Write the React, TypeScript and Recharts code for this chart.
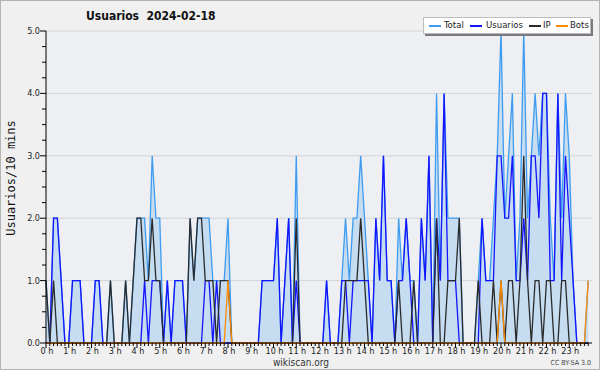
import { ComposedChart, Area, Line, XAxis, YAxis, CartesianGrid } from "recharts";

// 10-minute slots, 6 per hour (one row of each array = one hour)
const TOTAL = [
  1, 0, 2, 2, 1, 0,
  0, 1, 1, 1, 0, 0,
  0, 1, 1, 0, 0, 1,
  0, 0, 0, 1, 0, 1,
  2, 2, 2, 1, 3, 2,
  2, 0, 1, 0, 1, 1,
  1, 0, 2, 1, 2, 2,
  2, 2, 1, 1, 1, 1,
  2, 0, 0, 0, 0, 0,
  0, 0, 0, 1, 1, 1,
  1, 2, 0, 1, 2, 0,
  3, 0, 0, 0, 0, 0,
  0, 0, 1, 0, 0, 0,
  1, 2, 1, 2, 2, 3,
  2, 1, 0, 2, 1, 3,
  1, 1, 0, 2, 1, 2,
  1, 1, 0, 2, 1, 3,
  0, 4, 1, 4, 2, 2,
  2, 2, 0, 0, 0, 0,
  1, 2, 1, 1, 2, 3,
  5, 2, 3, 4, 1, 2,
  5, 2, 3, 4, 3, 4,
  4, 2, 1, 4, 2, 4,
  3, 1, 0, 0, 0, 1,
];

const USUARIOS = [
  0, 0, 2, 2, 1, 0,
  0, 1, 1, 1, 0, 0,
  0, 1, 1, 0, 0, 0,
  0, 0, 0, 0, 0, 0,
  0, 0, 1, 0, 1, 1,
  1, 0, 1, 0, 1, 1,
  1, 0, 0, 0, 0, 0,
  1, 1, 0, 1, 0, 0,
  0, 0, 0, 0, 0, 0,
  0, 0, 0, 1, 1, 1,
  1, 2, 0, 1, 2, 0,
  1, 0, 0, 0, 0, 0,
  0, 0, 1, 0, 0, 0,
  1, 1, 0, 1, 1, 1,
  1, 1, 0, 2, 1, 3,
  1, 1, 0, 1, 1, 2,
  1, 0, 0, 2, 1, 3,
  0, 2, 1, 4, 1, 1,
  1, 0, 0, 0, 0, 0,
  0, 2, 1, 1, 1, 3,
  3, 2, 2, 3, 1, 1,
  2, 1, 3, 3, 2, 4,
  4, 1, 1, 4, 1, 3,
  2, 1, 0, 0, 0, 0,
];

const IP = [
  1, 0, 1, 0, 0, 0,
  0, 0, 0, 0, 0, 0,
  0, 0, 0, 0, 0, 1,
  0, 0, 0, 1, 0, 1,
  2, 2, 1, 1, 2, 1,
  1, 0, 0, 0, 0, 0,
  0, 0, 2, 1, 2, 2,
  1, 1, 1, 0, 1, 1,
  1, 0, 0, 0, 0, 0,
  0, 0, 0, 0, 0, 0,
  0, 0, 0, 0, 0, 0,
  2, 0, 0, 0, 0, 0,
  0, 0, 0, 0, 0, 0,
  0, 1, 1, 1, 1, 2,
  1, 0, 0, 0, 0, 0,
  0, 0, 0, 1, 0, 0,
  0, 1, 0, 0, 0, 0,
  0, 2, 0, 0, 1, 1,
  1, 2, 0, 0, 0, 0,
  1, 0, 0, 0, 1, 0,
  1, 0, 1, 1, 0, 1,
  3, 1, 0, 1, 1, 0,
  1, 1, 0, 0, 1, 1,
  0, 0, 0, 0, 0, 0,
];

const BOTS = [
  0, 0, 0, 0, 0, 0,
  0, 0, 0, 0, 0, 0,
  0, 0, 0, 0, 0, 0,
  0, 0, 0, 0, 0, 0,
  0, 0, 0, 0, 0, 0,
  0, 0, 0, 0, 0, 0,
  0, 0, 0, 0, 0, 0,
  0, 0, 0, 0, 0, 0,
  1, 0, 0, 0, 0, 0,
  0, 0, 0, 0, 0, 0,
  0, 0, 0, 0, 0, 0,
  0, 0, 0, 0, 0, 0,
  0, 0, 0, 0, 0, 0,
  0, 0, 0, 0, 0, 0,
  0, 0, 0, 0, 0, 0,
  0, 0, 0, 0, 0, 0,
  0, 0, 0, 0, 0, 0,
  0, 0, 0, 0, 0, 0,
  0, 0, 0, 0, 0, 0,
  0, 0, 0, 0, 0, 0,
  1, 0, 0, 0, 0, 0,
  0, 0, 0, 0, 0, 0,
  0, 0, 0, 0, 0, 0,
  0, 0, 0, 0, 0, 1,
];

const HOUR_LABELS = [
  "0 h", "1 h", "2 h", "3 h", "4 h", "5 h", "6 h", "7 h", "8 h", "9 h", "10 h", "11 h",
  "12 h", "13 h", "14 h", "15 h", "16 h", "17 h", "18 h", "19 h", "20 h", "21 h", "22 h", "23 h",
];
const Y_MAJOR = [0, 1, 2, 3, 4, 5];
const GRID_VALUES = [1, 2, 3, 4, 5];

const SERIES = [
  { key: "total", name: "Total", color: "#3e9cf0" },
  { key: "usuarios", name: "Usuarios", color: "#1414ff" },
  { key: "ip", name: "IP", color: "#2b2b2b" },
  { key: "bots", name: "Bots", color: "#ff8c00" },
];
// legend item offsets inside the legend box: [line, text]
const LEGEND_POS = [
  [5, 20],
  [46, 62],
  [105, 119],
  [132, 146],
];

const data = TOTAL.map((t, i) => ({
  slot: i,
  total: t,
  usuarios: USUARIOS[i],
  ip: IP[i],
  bots: BOTS[i],
}));

const X_TICKS = TOTAL.map((_, i) => i);
const Y_TICKS = Array.from({ length: 21 }, (_, i) => i * 0.25);

const FONT = "'DejaVu Sans Condensed', 'DejaVu Sans', sans-serif";

function XTick(props: any) {
  const { x, y, payload } = props;
  const v = payload.value as number;
  const major = v % 6 === 0;
  return (
    <g>
      <line x1={x} y1={y} x2={x} y2={y + (major ? 5 : 3)} stroke="#000" />
      {major && (
        <text x={x + 1} y={y + 11} textAnchor="middle" fontSize={9} fontFamily={FONT} fill="#222">
          {HOUR_LABELS[v / 6]}
        </text>
      )}
    </g>
  );
}

function YTick(props: any) {
  const { x, y, payload } = props;
  const v = payload.value as number;
  const major = Y_MAJOR.includes(v);
  return (
    <g>
      <line x1={x} y1={y} x2={x - (major ? 6 : 4)} y2={y} stroke="#000" />
      {major && (
        <text x={x - 6} y={y + 3} textAnchor="end" fontSize={9} fontFamily={FONT} fill="#222">
          {v.toFixed(1)}
        </text>
      )}
    </g>
  );
}

export default function App() {
  return (
    <div
      style={{
        position: "absolute",
        left: 0,
        top: 0,
        width: 600,
        height: 370,
        boxSizing: "border-box",
        background: "#f0f0f0",
        border: "1px solid #b4b4b4",
        fontFamily: FONT,
      }}
    >
      <div style={{ position: "absolute", left: -1, top: -1 }}>
        <ComposedChart width={600} height={370} data={data} margin={{ top: 31, right: 8, left: 0, bottom: 0 }}>
          <CartesianGrid fill="#edeff2" vertical={false} horizontalValues={GRID_VALUES} stroke="#d2d4d7" />
          <XAxis
            dataKey="slot"
            type="number"
            domain={[0, 144]}
            ticks={X_TICKS}
            interval={0}
            height={27}
            tickSize={0}
            tickMargin={0}
            tickLine={false}
            axisLine={{ stroke: "#000" }}
            tick={<XTick />}
          />
          <YAxis
            type="number"
            domain={[0, 5]}
            ticks={Y_TICKS}
            interval={0}
            width={46}
            tickSize={0}
            tickMargin={0}
            tickLine={false}
            axisLine={{ stroke: "#000" }}
            tick={<YTick />}
          />
          <Area
            type="linear"
            dataKey="total"
            stroke="#3e9cf0"
            strokeWidth={1.3}
            fill="#c6ddf1"
            fillOpacity={1}
            dot={false}
            activeDot={false}
            isAnimationActive={false}
          />
          <Line type="linear" dataKey="usuarios" stroke="#1414ff" strokeWidth={1.3} dot={false} activeDot={false} isAnimationActive={false} />
          <Line type="linear" dataKey="ip" stroke="#2b2b2b" strokeWidth={1.3} dot={false} activeDot={false} isAnimationActive={false} />
          <Line type="linear" dataKey="bots" stroke="#ff8c00" strokeWidth={1.3} dot={false} activeDot={false} isAnimationActive={false} />
        </ComposedChart>
      </div>

      <div style={{ position: "absolute", left: 85, top: 8, fontSize: 12, fontWeight: "bold", color: "#111", whiteSpace: "pre" }}>
        {"Usuarios  2024-02-18"}
      </div>

      <div
        style={{
          position: "absolute",
          left: 422,
          top: 16,
          width: 166,
          height: 15,
          background: "#fff",
          border: "1px solid #bdbdbd",
          boxShadow: "2px 2px 0 #7a7a7a",
          fontSize: 9.5,
          color: "#222",
        }}
      >
        {SERIES.map((s, k) => (
          <div key={s.key}>
            <div
              style={{
                position: "absolute",
                left: LEGEND_POS[k][0],
                top: 7,
                width: 12,
                height: 2,
                background: s.color,
              }}
            />
            <div style={{ position: "absolute", left: LEGEND_POS[k][1], top: 1, lineHeight: "12px", whiteSpace: "nowrap" }}>
              {s.name}
            </div>
          </div>
        ))}
      </div>

      <div
        style={{
          position: "absolute",
          left: 10,
          top: 177,
          transform: "translate(-50%, -50%) rotate(-90deg)",
          fontSize: 12,
          fontFamily: "'DejaVu Sans Mono', monospace",
          whiteSpace: "nowrap",
          color: "#111",
        }}
      >
        Usuarios/10 mins
      </div>

      <div style={{ position: "absolute", left: 0, width: 600, top: 356, lineHeight: "11px", textAlign: "center", fontSize: 10, color: "#333" }}>
        wikiscan.org
      </div>
      <div style={{ position: "absolute", right: 8, top: 358, lineHeight: "8px", fontSize: 7, color: "#444" }}>CC BY-SA 3.0</div>
    </div>
  );
}
